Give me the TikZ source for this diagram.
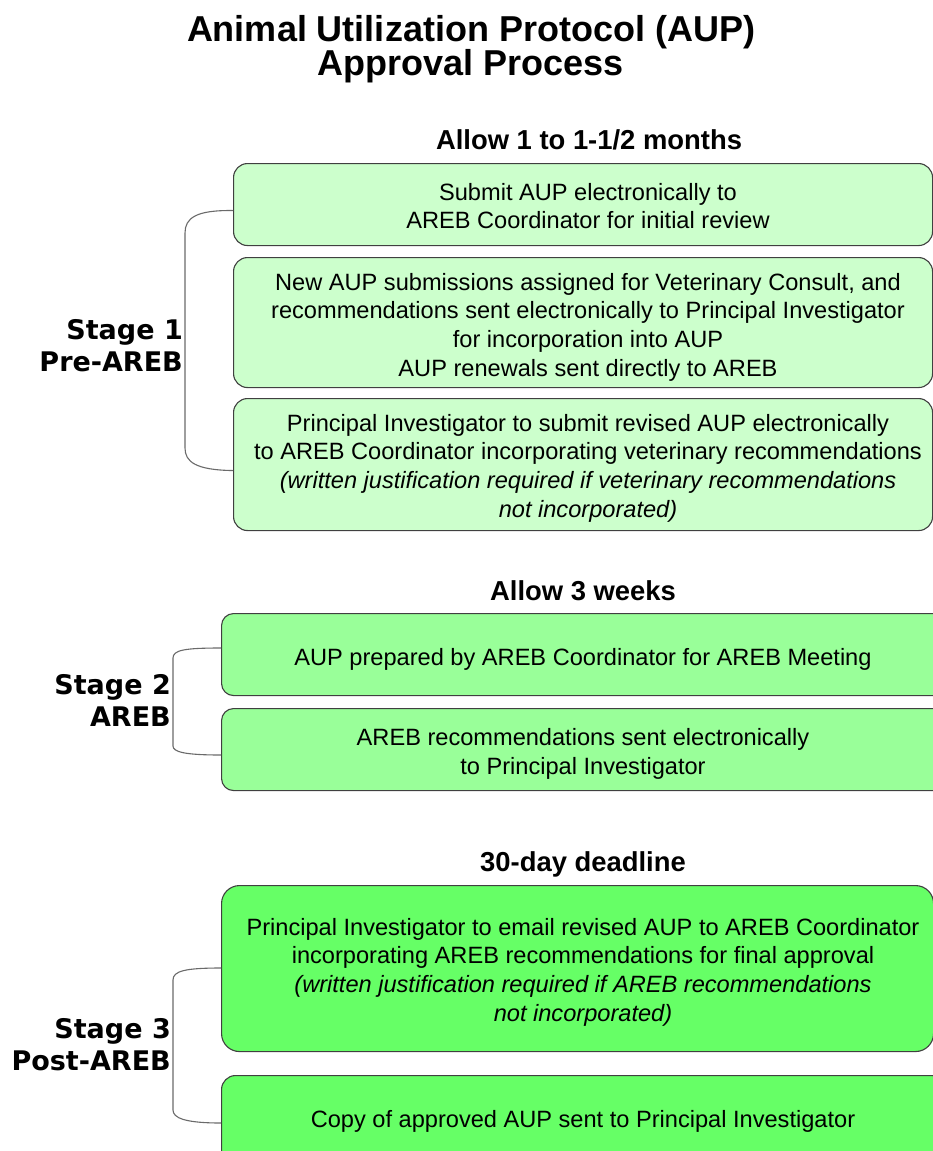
\documentclass[tikz,border=0pt]{standalone}
\usepackage{fontspec}
\setmainfont{Liberation Sans}
\newfontfamily\stagefont{DejaVu Sans}
\definecolor{sone}{HTML}{CCFFCC}
\definecolor{stwo}{HTML}{99FF99}
\definecolor{sthree}{HTML}{66FF66}
\definecolor{edge}{HTML}{404040}
\definecolor{bracecol}{HTML}{6A6A6A}
\begin{document}
\begin{tikzpicture}[x=1pt,y=-1pt,
  box/.style={draw=edge, line width=1.1pt, rounded corners=14pt, anchor=north west, inner sep=0pt},
  bodytext/.style={align=center, font=\fontsize{23.6}{28.7}\selectfont, inner sep=0pt},
  head/.style={font=\fontsize{27.4}{32}\selectfont\bfseries, inner sep=0pt},
  stagelbl/.style={font=\stagefont\bfseries\fontsize{27}{32}\selectfont, align=right, anchor=east, inner sep=0pt},
  brace/.style={draw=bracecol, line width=1.1pt}]
\useasboundingbox (0,0) rectangle (933,1151);

% title
\node[font=\fontsize{36}{34}\selectfont\bfseries, align=center, inner sep=0pt] (title) at (471,49)
  {Animal Utilization Protocol (AUP)\\Approval Process};

% Stage 1
\node[head] (h1) at (589,140) {Allow 1 to 1-1/2 months};
\node[box, fill=sone, minimum width=699pt, minimum height=82pt] (b1) at (233,163) {};
\node[box, fill=sone, minimum width=699pt, minimum height=130pt] (b2) at (233,257) {};
\node[box, fill=sone, minimum width=699pt, minimum height=132pt] (b3) at (233,398) {};
\node[bodytext] (t1) at (588,206) {Submit AUP electronically to\\AREB Coordinator for initial review};
\node[bodytext] (t2) at (588,327) {New AUP submissions assigned for Veterinary Consult, and\\recommendations sent electronically to Principal Investigator\\for incorporation into AUP\\AUP renewals sent directly to AREB};
\node[bodytext] (t3) at (588,468) {Principal Investigator to submit revised AUP electronically\\to AREB Coordinator incorporating veterinary recommendations\\\itshape (written justification required if veterinary recommendations\\\itshape not incorporated)};
\draw[brace] ([yshift=-6pt]b1.west) .. controls (196,210) and (185,218) .. (185,233)
  -- (185,448) .. controls (185,462) and (196,470) .. ([yshift=-6pt]b3.west);
\node[stagelbl] (l1) at (183,346) {Stage 1\\Pre-AREB};

% Stage 2
\node[head] (h2) at (583,591) {Allow 3 weeks};
\node[box, fill=stwo, rounded corners=12pt, minimum width=724pt, minimum height=82pt] (b4) at (221,613) {};
\node[box, fill=stwo, rounded corners=12pt, minimum width=724pt, minimum height=82pt] (b5) at (221,708) {};
\node[bodytext] (t4) at (583,659) {AUP prepared by AREB Coordinator for AREB Meeting};
\node[bodytext] (t5) at (583,754) {AREB recommendations sent electronically\\to Principal Investigator};
\draw[brace] (b4.west |- 0,648) .. controls (185,648) and (173,650) .. (173,658)
  -- (173,746) .. controls (173,752) and (185,755) .. (b5.west |- 0,755);
\node[stagelbl] (l2) at (171,700) {Stage 2\\AREB};

% Stage 3
\node[head] (h3) at (583,864) {30-day deadline};
\node[box, fill=sthree, rounded corners=18pt, minimum width=712pt, minimum height=166pt] (b6) at (221,885) {};
\node[box, fill=sthree, rounded corners=14pt, minimum width=724pt, minimum height=90pt] (b7) at (221,1075) {};
\node[bodytext] (t6) at (583,972) {Principal Investigator to email revised AUP to AREB Coordinator\\incorporating AREB recommendations for final approval\\\itshape (written justification required if AREB recommendations\\\itshape not incorporated)};
\node[bodytext] (t7) at (583,1121) {Copy of approved AUP sent to Principal Investigator};
\draw[brace] (b6.west |- 0,968) .. controls (185,968) and (173,971) .. (173,980)
  -- (173,1110) .. controls (173,1118) and (185,1123) .. (b7.west |- 0,1123);
\node[stagelbl] (l3) at (171,1045) {Stage 3\\Post-AREB};
\end{tikzpicture}
\end{document}
